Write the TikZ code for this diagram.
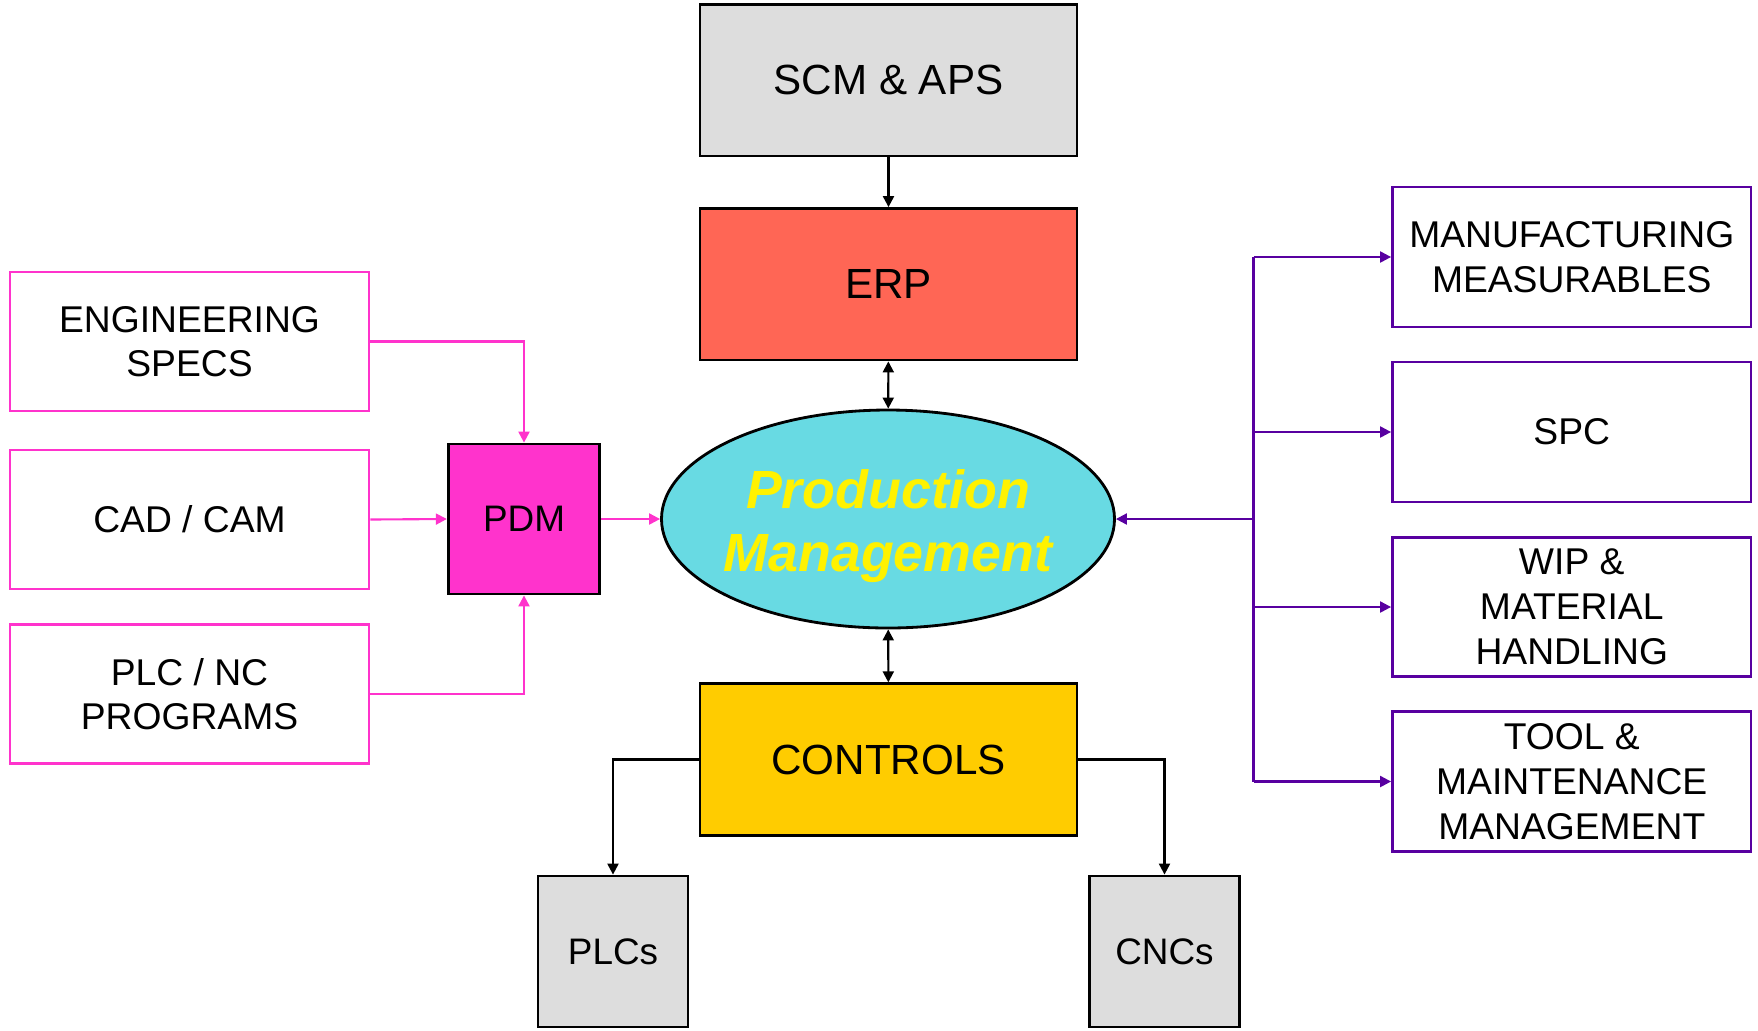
\documentclass[tikz,border=0pt]{standalone}
\usepackage{fontspec}
\setmainfont{Liberation Sans}
\usetikzlibrary{
  arrows.meta,
  shapes
}
\definecolor{boxgray}{RGB}{221,221,221}
\definecolor{erpred}{RGB}{255,102,85}
\definecolor{pmcyan}{RGB}{104,218,227}
\definecolor{ctrlyellow}{RGB}{255,204,0}
\definecolor{pdmpink}{RGB}{255,51,204}
\definecolor{linkpurple}{RGB}{88,0,160}
\tikzset{
  bigbox/.style={draw, line width=0.8pt, minimum width=3.77cm, minimum height=1.515cm,
    font=\fontsize{12}{14.5}\selectfont},
  smallbox/.style={draw, line width=0.8pt, minimum width=1.5cm, minimum height=1.5cm,
    font=\fontsize{10.5}{12.5}\selectfont},
  pinkbox/.style={draw=pdmpink, line width=0.8pt, minimum width=3.59cm, minimum height=1.39cm,
    align=center, font=\fontsize{10.6}{12.6}\selectfont},
  purplebox/.style={draw=linkpurple, line width=0.8pt, minimum width=3.585cm, minimum height=1.4cm,
    align=center, font=\fontsize{10.6}{12.8}\selectfont},
  tip/.style={-{Triangle[length=1.1mm,width=1.1mm]}},
  twotip/.style={{Triangle[length=1.1mm,width=1.1mm]}-{Triangle[length=1.1mm,width=1.1mm]}},
  blackline/.style={line width=0.6pt, black},
  pinkline/.style={line width=0.6pt, pdmpink},
  purpleline/.style={line width=0.6pt, linkpurple}
}
\begin{document}
\begin{tikzpicture}
  \useasboundingbox (0,0) rectangle (17.58,-10.30);
        \node[bigbox, fill=boxgray] (scm) at (8.885,-0.8025) {SCM \& APS};
        \node[bigbox, fill=erpred] (erp) at (8.885,-2.8425) {ERP};
        \node[ellipse, draw, line width=0.8pt, fill=pmcyan, minimum width=4.53cm, minimum height=2.18cm,
          inner xsep=-0.06cm, inner ysep=0pt, align=center, text=yellow,
          font=\fontsize{15.3}{18}\selectfont\bfseries\itshape]
          (pm) at (8.88,-5.19) {\rule{0pt}{15pt}Production\\Management};
        \node[bigbox, fill=ctrlyellow] (ctrl) at (8.885,-7.595) {CONTROLS};
        \node[smallbox, fill=boxgray, minimum height=1.51cm] (plcs) at (6.13,-9.515) {PLCs};
        \node[smallbox, fill=boxgray, minimum height=1.51cm] (cncs) at (11.645,-9.515) {CNCs};
        \node[smallbox, fill=pdmpink, minimum width=1.515cm] (pdm) at (5.24,-5.19) {PDM};
        \node[pinkbox] (eng) at (1.895,-3.415) {ENGINEERING\\SPECS};
        \node[pinkbox] (cad) at (1.895,-5.195) {CAD / CAM};
        \node[pinkbox] (plcnc) at (1.895,-6.94) {PLC / NC\\PROGRAMS};
        \node[purplebox] (mm) at (15.7175,-2.57) {MANUFACTURING\\MEASURABLES};
        \node[purplebox] (spc) at (15.7175,-4.32) {SPC};
        \node[purplebox, minimum height=1.38cm] (wip) at (15.7175,-6.07) {WIP \&\\MATERIAL\\HANDLING};
        \node[purplebox, minimum height=1.39cm] (tool) at (15.7175,-7.815) {TOOL \&\\MAINTENANCE\\MANAGEMENT};
        \coordinate (hub) at (12.535,-5.19);
	\draw[blackline, tip] (scm) -- (erp);
	\draw[blackline, twotip] (erp) -- (pm);
	\draw[blackline, twotip] (pm) -- (ctrl);
	\draw[blackline, tip] (ctrl.west) -| (plcs.north);
	\draw[blackline, tip] (ctrl.east) -| (cncs.north);
	\draw[pinkline, tip] (eng.east) -| (pdm.north);
	\draw[pinkline, tip] (cad.east) -- (pdm.west);
	\draw[pinkline, tip] (plcnc.east) -| (pdm.south);
	\draw[pinkline, tip] (pdm.east) -- (pm.west);
	\draw[purpleline, tip] (hub) -- (pm.east);
	\draw[purpleline] (hub |- mm.west) -- (hub |- tool.west);
	\draw[purpleline, tip] (hub |- mm.west) -- (mm.west);
	\draw[purpleline, tip] (hub |- spc.west) -- (spc.west);
	\draw[purpleline, tip] (hub |- wip.west) -- (wip.west);
	\draw[purpleline, tip] (hub |- tool.west) -- (tool.west);
\end{tikzpicture}
\end{document}
